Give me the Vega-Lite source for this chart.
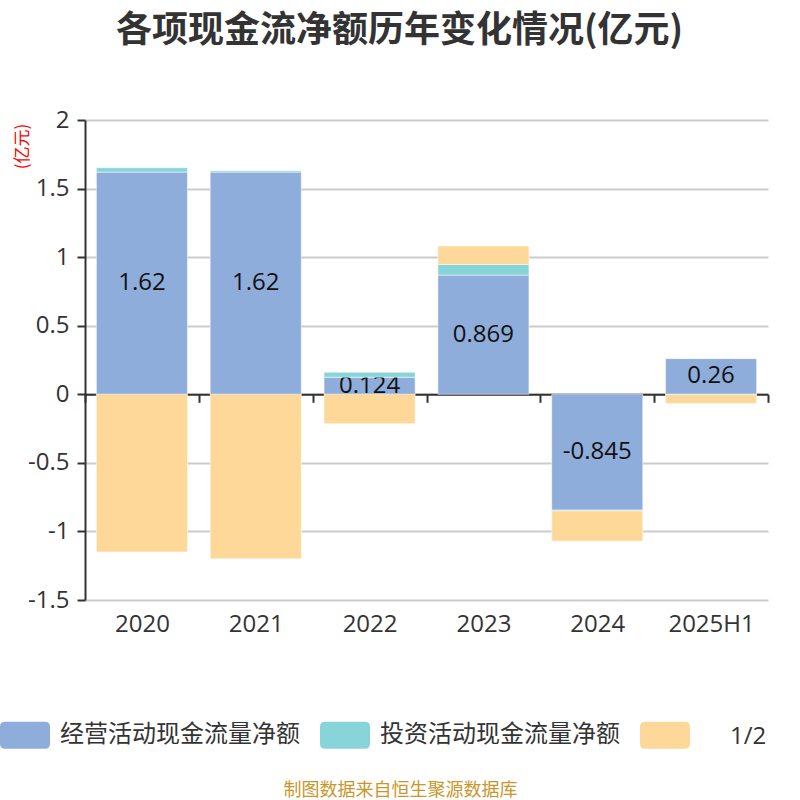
{
  "$schema": "https://vega.github.io/schema/vega-lite/v6.json",
  "width": 683,
  "height": 480,
  "autosize": {"type": "none"},
  "padding": {"left": 85, "top": 120, "right": 32, "bottom": 200},
  "background": "#ffffff",
  "title": {
    "text": "各项现金流净额历年变化情况(亿元)",
    "font": "Noto Sans CJK SC",
    "fontSize": 36,
    "fontWeight": "bold",
    "color": "#333333",
    "anchor": "middle",
    "dx": -27,
    "offset": 58
  },
  "data": {
    "values": [
      {"period": "2020", "type": "经营活动现金流量净额", "order": 1, "value": 1.62},
      {"period": "2020", "type": "投资活动现金流量净额", "order": 2, "value": 0.032},
      {"period": "2020", "type": "筹资活动现金流量净额", "order": 3, "value": -1.15},
      {"period": "2021", "type": "经营活动现金流量净额", "order": 1, "value": 1.62},
      {"period": "2021", "type": "投资活动现金流量净额", "order": 2, "value": 0.01},
      {"period": "2021", "type": "筹资活动现金流量净额", "order": 3, "value": -1.2},
      {"period": "2022", "type": "经营活动现金流量净额", "order": 1, "value": 0.124},
      {"period": "2022", "type": "投资活动现金流量净额", "order": 2, "value": 0.036},
      {"period": "2022", "type": "筹资活动现金流量净额", "order": 3, "value": -0.215},
      {"period": "2023", "type": "经营活动现金流量净额", "order": 1, "value": 0.869},
      {"period": "2023", "type": "投资活动现金流量净额", "order": 2, "value": 0.078},
      {"period": "2023", "type": "筹资活动现金流量净额", "order": 3, "value": 0.135},
      {"period": "2024", "type": "经营活动现金流量净额", "order": 1, "value": -0.845},
      {"period": "2024", "type": "投资活动现金流量净额", "order": 2, "value": -0.006},
      {"period": "2024", "type": "筹资活动现金流量净额", "order": 3, "value": -0.22},
      {"period": "2025H1", "type": "经营活动现金流量净额", "order": 1, "value": 0.26},
      {"period": "2025H1", "type": "投资活动现金流量净额", "order": 2, "value": -0.003},
      {"period": "2025H1", "type": "筹资活动现金流量净额", "order": 3, "value": -0.064}
    ]
  },
  "transform": [
    {
      "stack": "value",
      "groupby": ["period"],
      "sort": [{"field": "order", "order": "ascending"}],
      "as": ["v0", "v1"]
    }
  ],
  "encoding": {
    "x": {
      "field": "period",
      "type": "ordinal",
      "sort": null,
      "scale": {"paddingInner": 0, "paddingOuter": 0},
      "axis": {
        "title": "制图数据来自恒生聚源数据库",
        "titleFont": "Noto Sans CJK SC",
        "titleFontSize": 18,
        "titleFontWeight": "normal",
        "titleColor": "#c9962b",
        "titleX": 315,
        "titleY": 396,
        "titleAlign": "center",
        "titleBaseline": "middle",
        "labelAngle": 0,
        "labelFont": "Open Sans",
        "labelFontSize": 24,
        "labelColor": "#333333",
        "labelPadding": 210,
        "offset": -205.71,
        "domainColor": "#333333",
        "domainWidth": 2,
        "tickColor": "#333333",
        "tickWidth": 2,
        "tickSize": 8,
        "tickBand": "extent",
        "grid": false
      }
    }
  },
  "layer": [
    {
      "transform": [{"filter": "datum.order == 1"}],
      "mark": {"type": "bar", "width": {"band": 0.8}, "stroke": "#ffffff", "strokeWidth": 1, "strokeOpacity": 0.5},
      "encoding": {
        "y": {
          "field": "v0",
          "type": "quantitative",
          "scale": {"domain": [-1.5, 2], "nice": false, "zero": false},
          "axis": {
            "title": "(亿元)",
            "titleColor": "#ff0000",
            "titleFont": "Noto Sans CJK SC",
            "titleFontSize": 17,
            "titleFontWeight": "normal",
            "titleX": -63,
            "titleY": 26,
            "titleAngle": -90,
            "titleAlign": "center",
            "titleBaseline": "middle",
            "values": [-1.5, -1, -0.5, 0, 0.5, 1, 1.5, 2],
            "labelExpr": "datum.value + ''",
            "labelFont": "Open Sans",
            "labelFontSize": 24,
            "labelColor": "#333333",
            "labelPadding": 8,
            "domainColor": "#333333",
            "domainWidth": 2,
            "tickColor": "#333333",
            "tickWidth": 2,
            "tickSize": 8,
            "gridColor": "#cccccc",
            "gridWidth": 2
          }
        },
        "y2": {"field": "v1"},
        "color": {
          "field": "type",
          "type": "nominal",
          "scale": {
            "domain": ["经营活动现金流量净额", "投资活动现金流量净额", "筹资活动现金流量净额"],
            "range": ["#8eaddb", "#87d5d9", "#fed899"]
          },
          "legend": {
            "orient": "none",
            "direction": "horizontal",
            "legendX": -85,
            "legendY": 590,
            "title": "1/2",
            "titleOrient": "right",
            "titleAnchor": "end",
            "titleFont": "Open Sans",
            "titleFontSize": 24,
            "titleFontWeight": "normal",
            "titleColor": "#333333",
            "titlePadding": 30,
            "symbolType": "M-0.8,-0.54 L0.8,-0.54 Q1,-0.54 1,-0.34 L1,0.34 Q1,0.54 0.8,0.54 L-0.8,0.54 Q-1,0.54 -1,0.34 L-1,-0.34 Q-1,-0.54 -0.8,-0.54 Z",
            "symbolSize": 2500,
            "symbolStrokeWidth": 0,
            "symbolOpacity": 1,
            "labelFont": "Noto Sans CJK SC",
            "labelFontSize": 24,
            "labelColor": "#333333",
            "labelOffset": 10,
            "labelLimit": 0,
            "columnPadding": 20,
            "labelExpr": "datum.label == '筹资活动现金流量净额' ? '' : datum.label"
          }
        }
      }
    },
    {
      "transform": [
        {"filter": "datum.order == 1"},
        {"calculate": "(datum.v0 + datum.v1) / 2", "as": "mid"}
      ],
      "mark": {"type": "text", "font": "Open Sans", "fontSize": 24, "color": "#111111"},
      "encoding": {
        "y": {"field": "mid", "type": "quantitative"},
        "text": {"field": "value", "type": "nominal"}
      }
    },
    {
      "transform": [{"filter": "datum.order > 1"}],
      "mark": {"type": "bar", "width": {"band": 0.8}, "stroke": "#ffffff", "strokeWidth": 1, "strokeOpacity": 0.5},
      "encoding": {
        "y": {"field": "v0", "type": "quantitative"},
        "y2": {"field": "v1"},
        "color": {"field": "type", "type": "nominal"}
      }
    }
  ],
  "config": {
    "view": {"stroke": null}
  }
}
